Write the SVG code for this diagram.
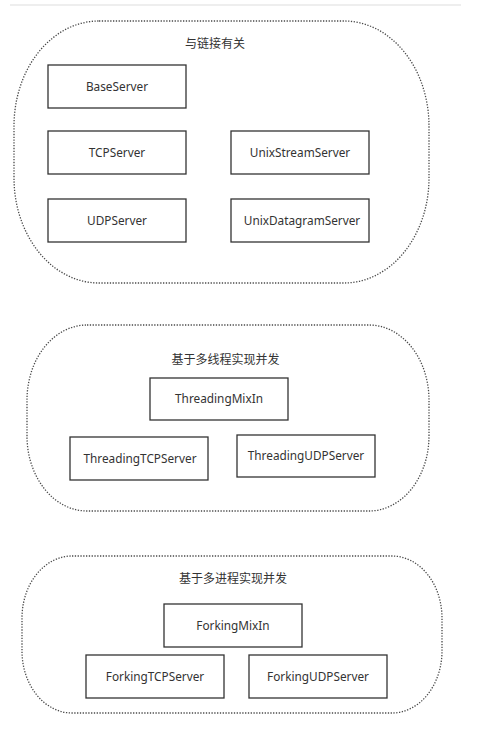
<svg xmlns="http://www.w3.org/2000/svg" width="480" height="733" viewBox="0 0 480 733">
<style>
.bg{fill:#ffffff}
.group{fill:none;stroke:#4a4a4a;stroke-width:1.3;stroke-dasharray:1.3 1.5}
.box{fill:#ffffff;stroke:#333;stroke-width:1.3}
.lbl{font-family:"Noto Sans","Liberation Sans",Arial,sans-serif;font-size:11.8px;fill:#333;text-anchor:middle;dominant-baseline:central}
.ttl{font-family:"Noto Sans CJK SC","Liberation Sans",sans-serif;font-size:12px;fill:#333;text-anchor:middle;dominant-baseline:central}
</style>
<rect class="bg" x="0" y="0" width="480" height="733"/>
<line x1="10" y1="5" x2="461" y2="5" stroke="#eeeeee" stroke-width="2"/>

<g id="group-connection">
<rect class="group" x="14" y="21" width="415" height="262" rx="85" ry="105"/>
<text class="ttl" x="215" y="42">与链接有关</text>
</g>
<g id="BaseServer"><rect class="box" x="48" y="65" width="138" height="43"/><text class="lbl" x="117" y="86">BaseServer</text></g>
<g id="TCPServer"><rect class="box" x="48" y="131" width="138" height="43"/><text class="lbl" x="117" y="152">TCPServer</text></g>
<g id="UnixStreamServer"><rect class="box" x="231" y="131" width="138" height="43"/><text class="lbl" x="300" y="152">UnixStreamServer</text></g>
<g id="UDPServer"><rect class="box" x="48" y="199" width="138" height="43"/><text class="lbl" x="117" y="220">UDPServer</text></g>
<g id="UnixDatagramServer"><rect class="box" x="231" y="199" width="138" height="43"/><text class="lbl" x="302" y="220">UnixDatagramServer</text></g>

<g id="group-threading">
<rect class="group" x="27" y="325" width="402" height="186" rx="60" ry="75"/>
<text class="ttl" x="225.5" y="358.5">基于多线程实现并发</text>
</g>
<g id="ThreadingMixIn"><rect class="box" x="150" y="378" width="138" height="42"/><text class="lbl" x="219" y="398">ThreadingMixIn</text></g>
<g id="ThreadingTCPServer"><rect class="box" x="70" y="437" width="138" height="43"/><text class="lbl" x="140" y="457.5">ThreadingTCPServer</text></g>
<g id="ThreadingUDPServer"><rect class="box" x="237" y="435" width="138" height="42"/><text class="lbl" x="306" y="455">ThreadingUDPServer</text></g>

<g id="group-forking">
<rect class="group" x="22" y="556" width="420" height="157" rx="50" ry="62"/>
<text class="ttl" x="233" y="577.5">基于多进程实现并发</text>
</g>
<g id="ForkingMixIn"><rect class="box" x="164" y="604" width="138" height="43"/><text class="lbl" x="233" y="625">ForkingMixIn</text></g>
<g id="ForkingTCPServer"><rect class="box" x="86" y="655" width="138" height="43"/><text class="lbl" x="155" y="676">ForkingTCPServer</text></g>
<g id="ForkingUDPServer"><rect class="box" x="249" y="655" width="138" height="43"/><text class="lbl" x="318" y="676">ForkingUDPServer</text></g>

<g id="connectors"></g>
</svg>
